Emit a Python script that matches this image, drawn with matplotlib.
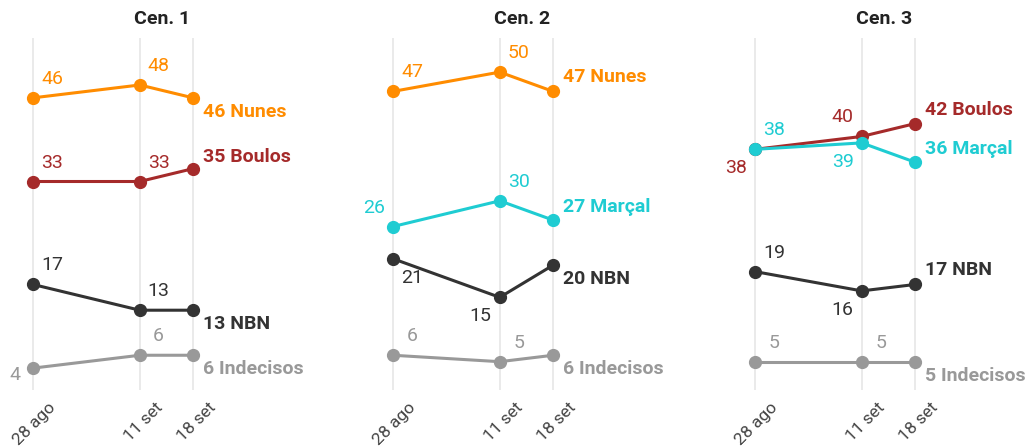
import matplotlib
matplotlib.use("Agg")
import matplotlib.pyplot as plt
from matplotlib.transforms import ScaledTranslation

plt.rcParams['font.family'] = ['Roboto', 'DejaVu Sans']

titles = ["Cen. 1", "Cen. 2", "Cen. 3"]
dates = ["28 ago", "11 set", "18 set"]
days = [0, 14, 21]

names = ["Nunes", "Boulos", "Marçal", "NBN", "Indecisos"]
colors = {"Nunes": "#FF8C00", "Boulos": "#A52A2A", "Marçal": "#1FCCD2",
          "NBN": "#333333", "Indecisos": "#999999"}

cen1 = {"Nunes": [46, 48, 46], "Boulos": [33, 33, 35], "NBN": [17, 13, 13], "Indecisos": [4, 6, 6]}
cen2 = {"Nunes": [47, 50, 47], "Marçal": [26, 30, 27], "NBN": [21, 15, 20], "Indecisos": [6, 5, 6]}
cen3 = {"Boulos": [38, 40, 42], "Marçal": [38, 39, 36], "NBN": [19, 16, 17], "Indecisos": [5, 5, 5]}
panels = [cen1, cen2, cen3]

# label offsets in pixels (dx, dy) for first two points, and dy for end label
UR, UL, DR, DL = (19, 19), (-19, 19), (19, -19), (-19, -19)
offsets = [
    {"Nunes": (UR, UR, -14), "Boulos": (UR, UR, 12), "NBN": (UR, UR, -14), "Indecisos": ((-18, -7), UR, -14)},
    {"Nunes": (UR, UR, 14), "Marçal": (UL, UR, 13), "NBN": (DR, DL, -14), "Indecisos": (UR, UR, -14)},
    {"Boulos": (DL, UL, 14), "Marçal": (UR, DL, 13), "NBN": (UR, DL, 14), "Indecisos": (UR, UR, -14)},
]

fig = plt.figure(figsize=(10.34, 4.48), dpi=100)
lefts = [0 / 1034, 360 / 1034, 722 / 1034]
for i, (data, offs) in enumerate(zip(panels, offsets)):
    ax = fig.add_axes([lefts[i], 58 / 448, 325 / 1034, 352 / 448])
    ax.set_xlim(-4.33, 38.3)
    ax.set_ylim(0.6, 55.3)
    for d in days:
        ax.axvline(d, color="#e6e6e6", lw=1.2, zorder=0)
    for name, vals in data.items():
        c = colors[name]
        ax.plot(days, vals, color=c, lw=2.2, marker="o", ms=8.5, zorder=3)
        o = offs[name]
        for k in range(2):
            dx, dy = o[k]
            ax.annotate(str(vals[k]), (days[k], vals[k]), xytext=(dx, dy),
                        textcoords="offset pixels", ha="center", va="center",
                        fontsize=14, color=c)
        ax.annotate(f"{vals[2]} {name}", (days[2], vals[2]), xytext=(10, o[2]),
                    textcoords="offset pixels", ha="left", va="center",
                    fontsize=14, fontweight="bold", color=c)
    ax.set_title(titles[i], fontsize=14, fontweight="bold", color="#222222", pad=10)
    ax.set_xticks(days)
    ax.set_xticklabels(dates, rotation=45, ha="right", va="top", rotation_mode="anchor",
                       fontsize=12.5, color="#444444")
    ax.tick_params(axis="x", length=0, pad=7)
    for lab in ax.get_xticklabels():
        lab.set_transform(lab.get_transform() + ScaledTranslation(15 / 100, 0, fig.dpi_scale_trans))
    ax.set_yticks([])
    for s in ax.spines.values():
        s.set_visible(False)
    ax.patch.set_alpha(0)

fig.savefig("out.png", dpi=100)
